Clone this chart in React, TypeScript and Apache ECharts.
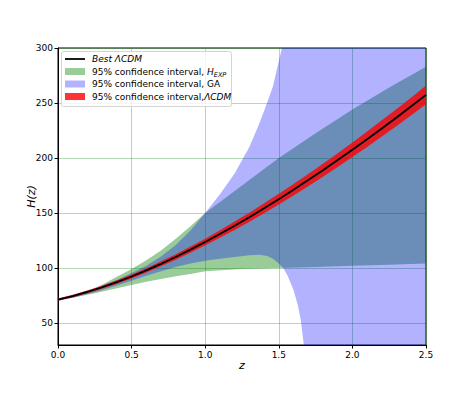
import React, { useEffect, useRef } from "react";
import * as echarts from "echarts";

// ---- Data ----
// Best-fit LambdaCDM curve
const zLine = [0, 0.1, 0.2, 0.3, 0.4, 0.5, 0.6, 0.7, 0.8, 0.9, 1.0, 1.1, 1.2, 1.3, 1.4, 1.5, 1.6, 1.7, 1.8, 1.9, 2.0, 2.1, 2.2, 2.3, 2.4, 2.5];
const hLine = [71.3, 74.5, 78.3, 82.5, 87.2, 92.3, 97.8, 103.8, 110.0, 116.7, 123.6, 130.9, 138.4, 146.2, 154.3, 162.6, 171.1, 179.9, 188.9, 198.1, 207.5, 217.1, 226.9, 236.9, 247.0, 257.4];
// 95% CI LambdaCDM (red)
const redUpper = [72.3, 75.6, 79.6, 83.9, 88.8, 94.1, 99.8, 106.1, 112.5, 119.5, 126.6, 134.3, 142.2, 150.3, 158.8, 167.4, 176.3, 185.5, 194.8, 204.4, 214.1, 224.1, 234.3, 244.6, 255.1, 265.9];
const redLower = [70.3, 73.4, 77.0, 81.1, 85.6, 90.5, 95.8, 101.5, 107.5, 113.9, 120.6, 127.5, 134.6, 142.1, 149.8, 157.8, 165.9, 174.3, 183.0, 191.8, 200.9, 210.1, 219.5, 229.2, 238.9, 248.9];
// 95% CI H_EXP (green)
const zGreen = [0, 0.1, 0.25, 0.4, 0.5, 0.6, 0.7, 0.8, 0.9, 1.0, 1.25, 1.5, 1.75, 2.0, 2.25, 2.5];
const greenUpper = [71.8, 74.8, 81.2, 92.0, 99.0, 107.0, 116.0, 126.5, 138.0, 150.0, 175.0, 200.0, 222.5, 244.0, 264.0, 283.0];
const greenLower = [70.8, 73.0, 77.0, 81.5, 84.5, 87.5, 90.0, 92.5, 94.5, 97.0, 99.0, 100.0, 101.0, 102.0, 103.0, 104.0];
// 95% CI GA (blue)
const zBlue = [0, 0.1, 0.25, 0.4, 0.5, 0.6, 0.7, 0.8, 0.9, 1.0, 1.1, 1.2, 1.3, 1.37, 1.42, 1.46, 1.5, 1.53, 1.56, 1.6, 1.63, 1.65, 1.67, 1.7, 1.8, 2.0, 2.25, 2.5];
const blueUpper = [72.3, 75.4, 81.8, 89.0, 95.5, 102.0, 110.5, 121.0, 134.0, 150.0, 167.0, 186.0, 210.0, 232.0, 250.0, 265.0, 288.0, 305.0, 330.0, 370.0, 420.0, 470.0, 540.0, 650.0, 1000.0, 1500.0, 2000.0, 2500.0];
const blueLower = [70.3, 73.0, 78.0, 84.0, 88.5, 93.0, 97.0, 101.0, 104.0, 106.5, 108.5, 110.0, 111.5, 112.0, 111.0, 108.5, 104.0, 100.0, 93.0, 80.0, 66.0, 52.0, 30.0, -20.0, -200.0, -500.0, -700.0, -900.0];
// Axis ticks
const xTicks = [0, 0.5, 1.0, 1.5, 2.0, 2.5];
const yTicks = [50, 100, 150, 200, 250, 300];

const FONT = "DejaVu Sans";

function band(name: string, zs: number[], lo: number[], hi: number[], fill: string) {
  return {
    type: "custom",
    name,
    clip: true,
    silent: true,
    data: [[zs[0], lo[0]]],
    renderItem: (_params: any, api: any) => {
      const pts: number[][] = [];
      for (let i = 0; i < zs.length; i++) pts.push(api.coord([zs[i], hi[i]]));
      for (let i = zs.length - 1; i >= 0; i--) pts.push(api.coord([zs[i], lo[i]]));
      return { type: "polygon", shape: { points: pts }, style: { fill } };
    },
  };
}

export default function App() {
  const ref = useRef<HTMLDivElement>(null);
  useEffect(() => {
    document.body.style.margin = "0";
    const chart = echarts.init(ref.current!, null, { renderer: "svg" });
    const rows = [59, 71.5, 84, 96.5];
    const tx = 92;
    const option: any = {
      animation: false,
      backgroundColor: "#fff",
      textStyle: { fontFamily: FONT },
      grid: { left: 58, right: 48, top: 48, bottom: 50, show: true, borderColor: "#000", borderWidth: 1, backgroundColor: "transparent" },
      xAxis: {
        type: "value",
        min: 0,
        max: 2.5,
        interval: 0.5,
        name: "z",
        nameLocation: "middle",
        nameGap: 15,
        nameMoveOverlap: false,
        nameTextStyle: { fontFamily: FONT, fontSize: 11, fontStyle: "italic", color: "#000" },
        axisLine: { show: true, lineStyle: { color: "#000", width: 1 } },
        axisTick: { show: true, length: 3.5, lineStyle: { color: "#000" } },
        axisLabel: { color: "#000", fontSize: 9, fontFamily: FONT, margin: 5, formatter: (v: number) => (xTicks.includes(v) ? v.toFixed(1) : "") },
        splitLine: { show: true, lineStyle: { color: "rgba(0,128,0,0.3)", width: 1 } },
      },
      yAxis: {
        type: "value",
        min: 30,
        max: 300,
        name: "H(z)",
        nameLocation: "middle",
        nameGap: 21,
        nameMoveOverlap: false,
        nameTextStyle: { fontFamily: FONT, fontSize: 11, fontStyle: "italic", color: "#000" },
        axisLine: { show: true, lineStyle: { color: "#000", width: 1 } },
        axisTick: { show: true, length: 3.5, lineStyle: { color: "#000" }, customValues: yTicks },
        axisLabel: { color: "#000", fontSize: 9, fontFamily: FONT, margin: 5, customValues: yTicks, formatter: (v: number) => (yTicks.includes(v) ? String(v) : "") },
        splitLine: { show: true, lineStyle: { color: "rgba(0,128,0,0.3)", width: 1 } },
      },
      series: [
        band("95% confidence interval, H_EXP", zGreen, greenLower, greenUpper, "rgba(0,128,0,0.4)"),
        band("95% confidence interval, GA", zBlue, blueLower, blueUpper, "rgba(0,0,255,0.3)"),
        band("95% confidence interval,ΛCDM", zLine, redLower, redUpper, "rgba(255,0,0,0.8)"),
        {
          type: "line",
          name: "Best ΛCDM",
          data: zLine.map((z, i) => [z, hLine[i]]),
          symbol: "none",
          lineStyle: { color: "#000", width: 1.8 },
          silent: true,
        },
      ],
      graphic: [
        { type: "rect", shape: { x: 61.5, y: 51.5, width: 170, height: 55, r: 2 }, style: { fill: "rgba(255,255,255,0.8)", stroke: "#d4d4d4", lineWidth: 1 }, z: 100 },
        { type: "line", shape: { x1: 65, y1: rows[0], x2: 85, y2: rows[0] }, style: { stroke: "#000", lineWidth: 1.8 }, z: 101 },
        { type: "rect", shape: { x: 65, y: rows[1] - 3.5, width: 20, height: 7 }, style: { fill: "rgba(0,128,0,0.4)" }, z: 101 },
        { type: "rect", shape: { x: 65, y: rows[2] - 3.5, width: 20, height: 7 }, style: { fill: "rgba(0,0,255,0.3)" }, z: 101 },
        { type: "rect", shape: { x: 65, y: rows[3] - 3.5, width: 20, height: 7 }, style: { fill: "rgba(255,0,0,0.8)" }, z: 101 },
        { type: "text", x: tx, y: rows[0], z: 101, style: { text: "Best ΛCDM", fontFamily: FONT, fontSize: 9, fontStyle: "italic", fill: "#000", verticalAlign: "middle" } },
        {
          type: "text", x: tx, y: rows[1], z: 101,
          style: {
            text: "95% confidence interval, {i|H}{s|EXP}", fontFamily: FONT, fontSize: 9, fill: "#000", verticalAlign: "middle",
            rich: {
              i: { fontFamily: FONT, fontSize: 9, fontStyle: "italic", fill: "#000" },
              s: { fontFamily: FONT, fontSize: 6.5, fontStyle: "italic", fill: "#000", verticalAlign: "bottom", lineHeight: 14 },
            },
          },
        },
        { type: "text", x: tx, y: rows[2], z: 101, style: { text: "95% confidence interval, GA", fontFamily: FONT, fontSize: 9, fill: "#000", verticalAlign: "middle" } },
        {
          type: "text", x: tx, y: rows[3], z: 101,
          style: {
            text: "95% confidence interval,{i|ΛCDM}", fontFamily: FONT, fontSize: 9, fill: "#000", verticalAlign: "middle",
            rich: { i: { fontFamily: FONT, fontSize: 9, fontStyle: "italic", fill: "#000" } },
          },
        },
      ],
    };
    chart.setOption(option);
    return () => chart.dispose();
  }, []);
  return <div ref={ref} style={{ width: 474, height: 395 }} />;
}
